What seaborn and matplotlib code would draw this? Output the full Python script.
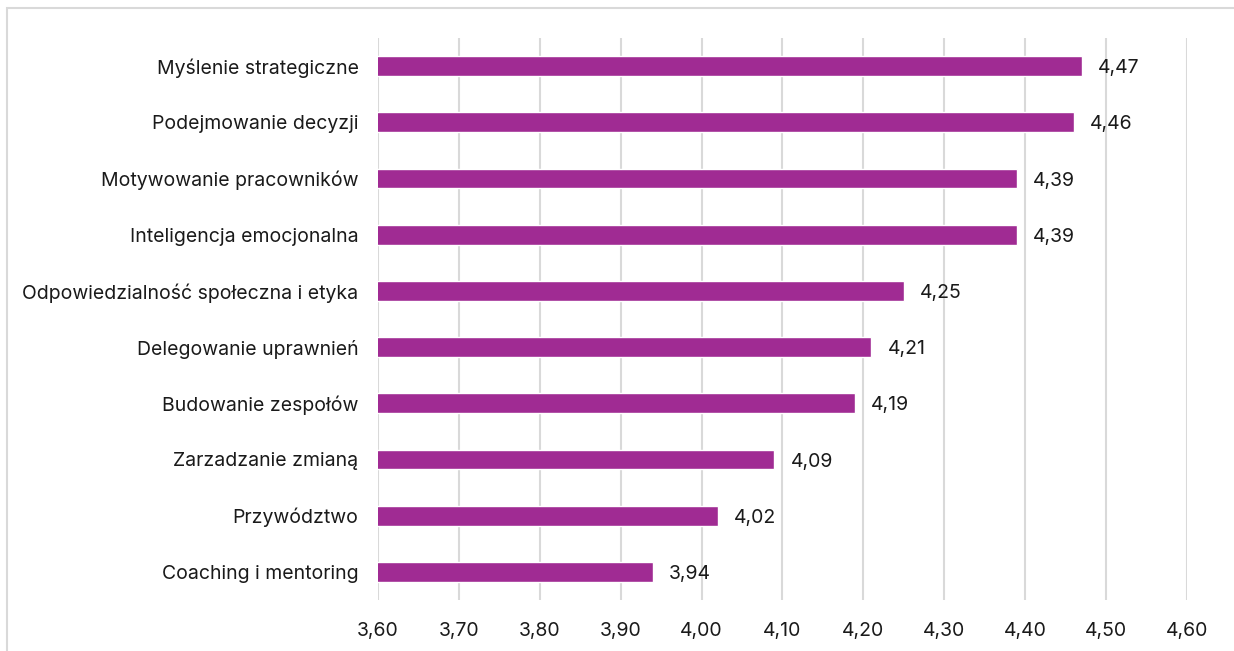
import matplotlib
matplotlib.use("Agg")
import matplotlib.pyplot as plt
from matplotlib.patches import Rectangle
import seaborn as sns
import pandas as pd

categories = [
    "Myślenie strategiczne",
    "Podejmowanie decyzji",
    "Motywowanie pracowników",
    "Inteligencja emocjonalna",
    "Odpowiedzialność społeczna i etyka",
    "Delegowanie uprawnień",
    "Budowanie zespołów",
    "Zarzadzanie zmianą",
    "Przywództwo",
    "Coaching i mentoring",
]
values = [4.47, 4.46, 4.39, 4.39, 4.25, 4.21, 4.19, 4.09, 4.02, 3.94]
x_ticks = [3.60, 3.70, 3.80, 3.90, 4.00, 4.10, 4.20, 4.30, 4.40, 4.50, 4.60]

df = pd.DataFrame({"kompetencja": categories, "ocena": values})

sns.set_theme(style="white")
plt.rcParams["font.family"] = ["Inter", "DejaVu Sans"]

BAR = "#A02B93"
GRID = "#D9D9D9"
TXT = "#1a1a1a"
FS = 14

fig = plt.figure(figsize=(12.34, 6.51), dpi=100)
ax = fig.add_axes([378 / 1234, 1 - 600 / 651, (1187 - 378) / 1234, (600 - 38) / 651])

# outer frame of the chart area
fig.patches.append(Rectangle((7 / 1234, -0.05), 1.2, (651 - 8) / 651 + 0.05,
                             transform=fig.transFigure, fill=False,
                             edgecolor="#D9D9D9", linewidth=1.5))

sns.barplot(data=df, x="ocena", y="kompetencja", orient="h", color=BAR,
            saturation=1, width=0.35, ax=ax, zorder=3)

ax.set_xlim(3.60, 4.60)
ax.set_ylim(9.5, -0.5)
ax.set_xticks(x_ticks)
ax.set_xticklabels([f"{t:.2f}".replace(".", ",") for t in x_ticks])
ax.grid(axis="x", color=GRID, linewidth=1.5, zorder=0)
ax.grid(axis="y", visible=False)
for s in ax.spines.values():
    s.set_visible(False)
ax.set_xlabel("")
ax.set_ylabel("")
ax.tick_params(axis="y", length=0, pad=14, labelsize=FS, labelcolor=TXT)
ax.tick_params(axis="x", length=0, pad=16, labelsize=FS, labelcolor=TXT)

for bar, v in zip(ax.patches, values):
    ax.annotate(f"{v:.2f}".replace(".", ","),
                (bar.get_width(), bar.get_y() + bar.get_height() / 2),
                xytext=(11.5, -1.5), textcoords="offset points",
                va="center", ha="left", fontsize=FS, color=TXT)

fig.savefig("out.png", dpi=100)
